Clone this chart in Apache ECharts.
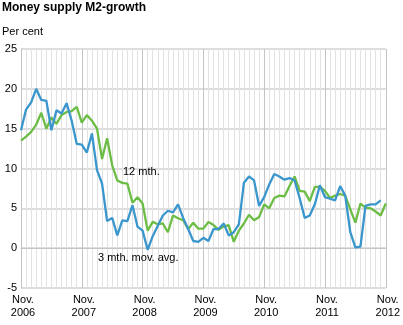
<!DOCTYPE html>
<html><head><meta charset="utf-8">
<script src="https://cdn.jsdelivr.net/npm/echarts@6/dist/echarts.min.js"></script>
<style>html,body{margin:0;padding:0;background:#fff}#c{width:403px;height:325px}</style>
</head><body><div id="c"></div>
<script>
const tickLabels = ['Nov.\n2006','Nov.\n2007','Nov.\n2008','Nov.\n2009','Nov.\n2010','Nov.\n2011','Nov.\n2012'];
const monthNames = ['Nov','Dec','Jan','Feb','Mar','Apr','May','Jun','Jul','Aug','Sep','Oct'];
const threeMonth = [14.8,17.4,18.3,20.0,18.6,18.5,14.8,17.3,16.9,18.2,16.0,13.1,
  13.0,12.0,14.4,9.8,8.1,3.4,3.8,1.6,3.5,3.4,5.4,2.7,
  2.2,-0.2,1.5,2.8,4.1,4.7,4.5,5.5,3.8,2.4,0.9,0.8,
  1.3,0.9,2.4,2.4,3.1,1.6,2.0,3.0,8.2,9.0,8.5,5.3,
  6.4,8.0,9.3,9.0,8.6,8.8,8.5,6.3,3.8,4.1,5.5,7.9,
  6.4,6.2,6.0,7.8,6.6,2.0,0.1,0.2,5.3,5.5,5.5,6.0];
const twelveMonth = [13.5,14.0,14.6,15.5,17.0,15.0,16.4,15.6,16.7,17.1,17.2,17.75,
  15.75,16.7,16.0,15.0,11.2,13.8,10.4,8.5,8.2,8.1,5.7,6.4,
  5.6,2.2,3.3,3.0,3.1,2.0,4.1,3.75,3.5,2.4,3.2,2.45,
  2.45,3.3,2.9,2.3,2.75,2.9,0.8,2.2,3.1,4.2,3.5,3.9,
  5.5,5.0,6.3,6.6,6.5,7.8,9.0,7.2,7.1,5.9,7.7,7.7,
  7.2,6.3,6.6,6.8,6.6,4.9,3.2,5.6,5.1,5.0,4.6,4.1,5.6];
const yTicks = [-5,0,5,10,15,20,25];

const categories = [];
for (let i = 0; i < twelveMonth.length; i++) {
  const yr = 2006 + Math.floor((i + 10) / 12);
  categories.push(monthNames[i % 12] + ' ' + yr);
}
const splitColors = [];
for (let i = 0; i < 12; i++) splitColors.push(i === 0 ? '#c4c4c4' : '#e2e2e2');

const chart = echarts.init(document.getElementById('c'), null, {renderer: 'canvas'});
const font = 'Liberation Sans, Arial, sans-serif';
chart.setOption({
  animation: false,
  title: [
    {text: 'Money supply M2-growth', left: 2, top: 2, padding: 0,
     textStyle: {fontFamily: font, fontSize: 12, fontWeight: 'bold', color: '#000'}},
    {text: 'Per cent', left: 2, top: 26, padding: 0,
     textStyle: {fontFamily: font, fontSize: 11, fontWeight: 'normal', color: '#000'}}
  ],
  grid: {left: 21, right: 15, top: 49, bottom: 37, containLabel: false},
  xAxis: {
    type: 'category', data: categories, boundaryGap: false,
    axisLine: {show: true, lineStyle: {color: '#c4c4c4', width: 1}},
    axisTick: {show: false},
    axisLabel: {
      interval: function (i) { return i % 12 === 0; },
      formatter: function (v, i) { return tickLabels[i / 12]; },
      fontFamily: font, fontSize: 11, color: '#000', lineHeight: 13, margin: 5,
      align: 'center', padding: [0, 0, 0, 4], showMaxLabel: true
    },
    splitLine: {show: true, interval: 0, lineStyle: {color: splitColors, width: 1}}
  },
  yAxis: {
    type: 'value', min: -5, max: 25, interval: 5,
    axisLine: {show: true, lineStyle: {color: '#c4c4c4'}},
    axisTick: {show: false},
    axisLabel: {fontFamily: font, fontSize: 11, color: '#000', margin: 4},
    splitLine: {show: true, lineStyle: {color: '#d2d2d2', width: 1.5}}
  },
  series: [
    {name: '12 mth.', type: 'line', data: twelveMonth, symbol: 'none',
     lineStyle: {color: '#6cbd45', width: 2.3}, z: 2},
    {name: '3 mth. mov. avg.', type: 'line', data: threeMonth, symbol: 'none',
     lineStyle: {color: '#3a96cd', width: 2.3}, z: 3}
  ],
  graphic: [
    {type: 'text', left: 123, top: 166, z: 100, style: {text: '12 mth.', font: '11px ' + font, fill: '#000'}},
    {type: 'text', left: 98, top: 252, z: 100, style: {text: '3 mth. mov. avg.', font: '11px ' + font, fill: '#000'}}
  ]
});
</script></body></html>
